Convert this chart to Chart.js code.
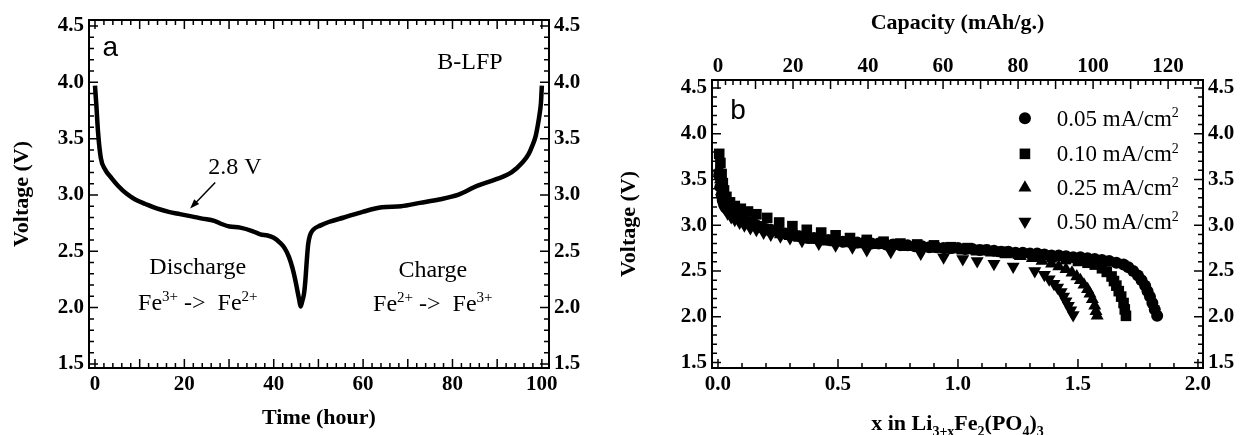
<!DOCTYPE html>
<html>
<head>
<meta charset="utf-8">
<script src="https://cdn.jsdelivr.net/npm/chart.js@4.4.0/dist/chart.umd.min.js"></script>
<style>
body { margin: 0; background: #fff; width: 1243px; height: 435px; overflow: hidden; position: relative; }
#boxA { position: absolute; left: 0; top: 0; width: 600px; height: 435px; }
#boxB { position: absolute; left: 600px; top: 0; width: 643px; height: 435px; }
</style>
</head>
<body>
<div id="boxA"><canvas id="chartA"></canvas></div>
<div id="boxB"><canvas id="chartB"></canvas></div>
<script>
// panel a: discharge / charge curve of B-LFP
const timeHours = [0, 0.3, 0.7, 1.3, 2.2, 3.7, 5.2, 7.1, 9, 11.3, 13.8, 16.5, 19, 21.6, 24, 26.7, 28.5, 30.1, 32.5, 35.2,
  37, 38.6, 40, 41.3, 42.4, 43.4, 44.2, 44.8, 45.3, 45.7, 46.0, 46.4, 46.8, 47.1, 47.4, 47.7, 48.1, 48.8, 50.5, 52.3,
  55.7, 59.9, 64.2, 68.5, 72.7, 77, 81.2, 85.5, 89.8, 93.2, 95.7, 97, 97.9, 98.6, 99.1, 99.5, 99.8, 100]
const voltageA = [3.97, 3.8, 3.55, 3.33, 3.23, 3.15, 3.08, 3.01, 2.96, 2.92, 2.88, 2.85, 2.83, 2.81, 2.79, 2.77, 2.74, 2.72, 2.71, 2.68,
  2.65, 2.64, 2.62, 2.58, 2.53, 2.45, 2.35, 2.25, 2.15, 2.07, 2.01, 2.06, 2.13, 2.25, 2.42, 2.56, 2.64, 2.69, 2.73, 2.76,
  2.8, 2.85, 2.89, 2.9, 2.93, 2.96, 3.0, 3.08, 3.14, 3.2, 3.29, 3.36, 3.44, 3.52, 3.62, 3.72, 3.82, 3.97]

// panel b: discharge at four current densities
const x005 = [0.005, 0.01, 0.015, 0.02, 0.025, 0.03, 0.04, 0.05, 0.06, 0.07, 0.08, 0.09, 0.1, 0.115, 0.13, 0.145, 0.16, 0.18, 0.2, 0.22,
  0.24, 0.26, 0.28, 0.3, 0.32, 0.34, 0.36, 0.38, 0.4, 0.43, 0.46, 0.49, 0.52, 0.55, 0.58, 0.61, 0.64, 0.67, 0.7, 0.73,
  0.76, 0.79, 0.82, 0.85, 0.88, 0.91, 0.94, 0.97, 1.0, 1.03, 1.06, 1.09, 1.12, 1.15, 1.18, 1.21, 1.24, 1.27, 1.3, 1.33,
  1.36, 1.39, 1.42, 1.45, 1.48, 1.51, 1.54, 1.57, 1.6, 1.63, 1.66, 1.69, 1.71, 1.73, 1.75, 1.765, 1.78, 1.79, 1.8, 1.81,
  1.82, 1.83]
const v005 = [3.55, 3.42, 3.33, 3.27, 3.23, 3.2, 3.17, 3.15, 3.13, 3.11, 3.1, 3.08, 3.07, 3.05, 3.03, 3.02, 3.0, 2.98, 2.96, 2.95,
  2.94, 2.92, 2.91, 2.9, 2.89, 2.88, 2.87, 2.86, 2.86, 2.85, 2.84, 2.83, 2.82, 2.82, 2.81, 2.81, 2.8, 2.8, 2.79, 2.79,
  2.78, 2.78, 2.77, 2.77, 2.76, 2.76, 2.75, 2.75, 2.75, 2.74, 2.74, 2.73, 2.73, 2.72, 2.71, 2.71, 2.7, 2.7, 2.69, 2.69,
  2.68, 2.67, 2.67, 2.66, 2.65, 2.65, 2.64, 2.63, 2.62, 2.61, 2.59, 2.57, 2.54, 2.5, 2.45, 2.4, 2.34, 2.28, 2.22, 2.15,
  2.08, 2.01]
const x010 = [0.005, 0.01, 0.015, 0.02, 0.025, 0.035, 0.05, 0.07, 0.095, 0.125, 0.16, 0.205, 0.255, 0.31, 0.37, 0.43, 0.49, 0.55, 0.62, 0.69,
  0.76, 0.83, 0.9, 0.97, 1.04, 1.11, 1.18, 1.25, 1.32, 1.39, 1.45, 1.5, 1.54, 1.57, 1.6, 1.62, 1.64, 1.65, 1.66, 1.67,
  1.68, 1.69, 1.695, 1.7]
const v010 = [3.78, 3.68, 3.56, 3.46, 3.38, 3.31, 3.25, 3.21, 3.18, 3.15, 3.12, 3.08, 3.03, 2.99, 2.95, 2.92, 2.89, 2.86, 2.84, 2.82,
  2.8, 2.79, 2.78, 2.76, 2.75, 2.73, 2.71, 2.69, 2.67, 2.65, 2.63, 2.61, 2.59, 2.57, 2.53, 2.49, 2.44, 2.39, 2.34, 2.28,
  2.22, 2.15, 2.08, 2.01]
const x025 = [0.005, 0.01, 0.015, 0.02, 0.03, 0.04, 0.055, 0.07, 0.09, 0.11, 0.135, 0.16, 0.19, 0.22, 0.26, 0.3, 0.34, 0.39, 0.44, 0.49,
  0.54, 0.6, 0.66, 0.72, 0.78, 0.84, 0.9, 0.96, 1.02, 1.08, 1.14, 1.2, 1.26, 1.31, 1.35, 1.39, 1.42, 1.45, 1.475, 1.495,
  1.51, 1.525, 1.54, 1.55, 1.56, 1.57, 1.575, 1.58]
const v025 = [3.62, 3.5, 3.42, 3.35, 3.27, 3.21, 3.16, 3.12, 3.08, 3.05, 3.02, 2.99, 2.96, 2.93, 2.9, 2.88, 2.86, 2.84, 2.82, 2.81,
  2.8, 2.79, 2.78, 2.77, 2.76, 2.75, 2.74, 2.73, 2.72, 2.71, 2.7, 2.68, 2.66, 2.64, 2.61, 2.58, 2.55, 2.52, 2.48, 2.44,
  2.4, 2.35, 2.3, 2.25, 2.19, 2.12, 2.06, 2.01]
const x050 = [0.005, 0.01, 0.015, 0.02, 0.03, 0.04, 0.055, 0.07, 0.09, 0.11, 0.135, 0.16, 0.19, 0.22, 0.26, 0.3, 0.35, 0.42, 0.49, 0.56,
  0.62, 0.72, 0.845, 0.94, 1.02, 1.08, 1.15, 1.23, 1.32, 1.36, 1.38, 1.4, 1.415, 1.43, 1.44, 1.45, 1.46, 1.47, 1.48]
const v050 = [3.5, 3.38, 3.3, 3.25, 3.18, 3.13, 3.09, 3.06, 3.03, 3.0, 2.97, 2.95, 2.92, 2.9, 2.88, 2.86, 2.83, 2.8, 2.78, 2.76,
  2.73, 2.71, 2.69, 2.65, 2.63, 2.61, 2.58, 2.55, 2.5, 2.46, 2.41, 2.36, 2.32, 2.27, 2.22, 2.17, 2.12, 2.07, 2.02]
const rateLabels = ['0.05 mA/cm', '0.10 mA/cm', '0.25 mA/cm', '0.50 mA/cm']

const timeTicks = [0, 20, 40, 60, 80, 100]
const voltTicks = [1.5, 2.0, 2.5, 3.0, 3.5, 4.0, 4.5]
const xTicks = [0, 0.5, 1.0, 1.5, 2.0]
const capacityTicks = [0, 20, 40, 60, 80, 100, 120]

const serif = '"Liberation Serif", "Times New Roman", serif'
Chart.defaults.color = '#000'
Chart.defaults.font.family = serif

function toXY(xs, ys) {
    return xs.map((x, i) => ({ x: x, y: ys[i] }))
}

// text with super/subscripts, parts = [[text, 'sup'|'sub'|undefined], ...]
function richText(ctx, parts, x, y, size, weight, align) {
    const small = Math.round(size * 0.62)
    const fontOf = p => `${weight} ${p[1] ? small : size}px ${serif}`
    let total = 0
    parts.forEach(p => { ctx.font = fontOf(p); total += ctx.measureText(p[0]).width })
    let cx = align === 'center' ? x - total / 2 : x
    ctx.textAlign = 'left'
    ctx.textBaseline = 'alphabetic'
    const base = y + size * 0.33
    parts.forEach(p => {
        ctx.font = fontOf(p)
        let dy = 0
        if (p[1] === 'sup') dy = -size * 0.36
        if (p[1] === 'sub') dy = size * 0.24
        ctx.fillText(p[0], cx, base + dy)
        cx += ctx.measureText(p[0]).width
    })
}

// inward tick marks + frame, drawn from the chart's own scales
function frameAndTicks(chart, specs) {
    const ctx = chart.ctx
    const a = chart.chartArea
    ctx.save()
    ctx.strokeStyle = '#000'
    ctx.lineWidth = 1.5
    specs.forEach(sp => {
        const sc = chart.scales[sp.scale]
        const ratio = Math.round(sp.major / sp.minor)
        for (let k = Math.ceil(sc.min / sp.minor - 1e-6); k * sp.minor <= sc.max + 1e-6; k++) {
            const p = sc.getPixelForValue(k * sp.minor)
            const len = k % ratio === 0 ? 9 : 5
            ctx.beginPath()
            sp.edges.forEach(e => {
                if (e === 'bottom') { ctx.moveTo(p, a.bottom); ctx.lineTo(p, a.bottom - len) }
                if (e === 'top') { ctx.moveTo(p, a.top); ctx.lineTo(p, a.top + len) }
                if (e === 'left') { ctx.moveTo(a.left, p); ctx.lineTo(a.left + len, p) }
                if (e === 'right') { ctx.moveTo(a.right, p); ctx.lineTo(a.right - len, p) }
            })
            ctx.stroke()
        }
    })
    ctx.lineWidth = 2
    ctx.strokeRect(a.left, a.top, a.right - a.left, a.bottom - a.top)
    ctx.restore()
}

const tickFont = { family: serif, size: 21, weight: 'bold', lineHeight: 1 }
const titleFont = { family: serif, size: 22, weight: 'bold', lineHeight: 1 }

function valueAxis(ticks, pos, min, max, width, fmt, title, titlePad) {
    return {
        type: 'linear', position: pos, min: min, max: max,
        grid: { display: false, drawTicks: false }, border: { display: false },
        ticks: { font: tickFont, padding: 5, callback: fmt },
        afterBuildTicks: s => { s.ticks = ticks.map(v => ({ value: v })) },
        afterFit: s => { s.width = width },
        title: { display: !!title, text: title, font: titleFont, padding: titlePad || 0 }
    }
}

function categoryAxis(ticks, pos, min, max, height, fmt, pad, title, titlePad) {
    return {
        type: 'linear', position: pos, min: min, max: max,
        grid: { display: false, drawTicks: false }, border: { display: false },
        ticks: { font: tickFont, padding: pad, maxRotation: 0, callback: fmt },
        afterBuildTicks: s => { s.ticks = ticks.map(v => ({ value: v })) },
        afterFit: s => { s.height = height },
        title: { display: !!title, text: title, font: titleFont, padding: titlePad || 0 }
    }
}

const one = v => v.toFixed(1)
const plain = v => String(v)

// ---------- panel a ----------
const panelA = {
    id: 'panelA',
    afterDatasetsDraw(chart) {
        const ctx = chart.ctx
        const X = v => chart.scales.x.getPixelForValue(v)
        const Y = v => chart.scales.y.getPixelForValue(v)
        frameAndTicks(chart, [
            { scale: 'x', minor: 2, major: 10, edges: ['bottom', 'top'] },
            { scale: 'y', minor: 0.1, major: 0.5, edges: ['left', 'right'] }
        ])
        ctx.save()
        ctx.fillStyle = '#000'
        ctx.strokeStyle = '#000'
        ctx.textAlign = 'center'
        ctx.textBaseline = 'middle'
        ctx.font = '28px "Liberation Sans", Arial, sans-serif'
        ctx.fillText('a', X(3.4), Y(4.3))
        ctx.font = '24px ' + serif
        ctx.fillText('B-LFP', X(83.9), Y(4.17))
        ctx.fillText('2.8 V', X(31.3), Y(3.24))
        ctx.fillText('Discharge', X(23), Y(2.35))
        ctx.fillText('Charge', X(75.6), Y(2.33))
        richText(ctx, [['Fe'], ['3+', 'sup'], [' ->  Fe'], ['2+', 'sup']], X(23), Y(2.05), 24, 'normal', 'center')
        richText(ctx, [['Fe'], ['2+', 'sup'], [' ->  Fe'], ['3+', 'sup']], X(75.6), Y(2.04), 24, 'normal', 'center')
        // arrow towards the 2.8 V plateau
        const x1 = X(26.9), y1 = Y(3.11), x2 = X(21.3), y2 = Y(2.88)
        const ang = Math.atan2(y2 - y1, x2 - x1)
        ctx.lineWidth = 1.5
        ctx.beginPath()
        ctx.moveTo(x1, y1)
        ctx.lineTo(x2 - 6 * Math.cos(ang), y2 - 6 * Math.sin(ang))
        ctx.stroke()
        ctx.beginPath()
        ctx.moveTo(x2, y2)
        ctx.lineTo(x2 - 10 * Math.cos(ang - 0.35), y2 - 10 * Math.sin(ang - 0.35))
        ctx.lineTo(x2 - 10 * Math.cos(ang + 0.35), y2 - 10 * Math.sin(ang + 0.35))
        ctx.closePath()
        ctx.fill()
        ctx.restore()
    }
}

new Chart(document.getElementById('chartA'), {
    type: 'scatter',
    data: {
        datasets: [{
            data: toXY(timeHours, voltageA),
            showLine: true,
            borderColor: '#000',
            borderWidth: 4.5,
            pointRadius: 0,
            cubicInterpolationMode: 'monotone'
        }]
    },
    options: {
        responsive: true,
        maintainAspectRatio: false,
        animation: false,
        layout: { padding: { top: 20, left: 0, right: 0, bottom: 0 } },
        plugins: { legend: { display: false }, tooltip: { enabled: false } },
        scales: {
            x: categoryAxis(timeTicks, 'bottom', -1.34, 101.6, 67, plain, 6, 'Time (hour)', 6),
            y: valueAxis(voltTicks, 'left', 1.464, 4.553, 89, one, 'Voltage (V)', 11),
            y2: valueAxis(voltTicks, 'right', 1.464, 4.553, 51, one)
        }
    },
    plugins: [panelA]
})

// ---------- panel b ----------
const markerStyles = [
    { pointStyle: 'circle', radius: 6, rotation: 0 },
    { pointStyle: 'rect', radius: 7.5, rotation: 0 },
    { pointStyle: 'triangle', radius: 7.5, rotation: 0 },
    { pointStyle: 'triangle', radius: 7.5, rotation: 180 }
]
const legendRows = [4.17, 3.78, 3.41, 3.04]

const panelB = {
    id: 'panelB',
    afterDatasetsDraw(chart) {
        const ctx = chart.ctx
        const a = chart.chartArea
        const X = v => chart.scales.x.getPixelForValue(v)
        const Y = v => chart.scales.y.getPixelForValue(v)
        frameAndTicks(chart, [
            { scale: 'x', minor: 0.1, major: 0.5, edges: ['bottom'] },
            { scale: 'x2', minor: 2, major: 10, edges: ['top'] },
            { scale: 'y', minor: 0.1, major: 0.5, edges: ['left', 'right'] }
        ])
        ctx.save()
        ctx.fillStyle = '#000'
        ctx.strokeStyle = '#000'
        ctx.textAlign = 'center'
        ctx.textBaseline = 'middle'
        ctx.font = '28px "Liberation Sans", Arial, sans-serif'
        ctx.fillText('b', X(0.083), Y(4.24))
        rateLabels.forEach((lab, i) => {
            const m = markerStyles[i]
            Chart.helpers.drawPoint(ctx, { pointStyle: m.pointStyle, radius: m.radius, rotation: m.rotation, borderWidth: 0 }, X(1.279), Y(legendRows[i]))
            richText(ctx, [[lab], ['2', 'sup']], X(1.412), Y(legendRows[i]), 23, 'normal', 'left')
        })
        richText(ctx, [['x in Li'], ['3+x', 'sub'], ['Fe'], ['2', 'sub'], ['(PO'], ['4', 'sub'], [')'], ['3', 'sub']],
            (a.left + a.right) / 2, 423, 22, 'bold', 'center')
        ctx.restore()
    }
}

const seriesX = [x005, x010, x025, x050]
const seriesV = [v005, v010, v025, v050]

new Chart(document.getElementById('chartB'), {
    type: 'scatter',
    data: {
        datasets: seriesX.map((xs, i) => ({
            label: rateLabels[i] + '²',
            data: toXY(xs, seriesV[i]),
            pointStyle: markerStyles[i].pointStyle,
            pointRadius: markerStyles[i].radius,
            rotation: markerStyles[i].rotation,
            backgroundColor: '#000',
            borderColor: '#000',
            borderWidth: 0
        }))
    },
    options: {
        responsive: true,
        maintainAspectRatio: false,
        animation: false,
        layout: { padding: 0 },
        plugins: { legend: { display: false }, tooltip: { enabled: false } },
        scales: {
            x: categoryAxis(xTicks, 'bottom', -0.025, 2.021, 67, one, 6),
            x2: categoryAxis(capacityTicks, 'top', -1.6, 129.3, 80, plain, 3, 'Capacity (mAh/g.)', 12),
            y: valueAxis(voltTicks, 'left', 1.44, 4.587, 112, one, 'Voltage (V)', 18),
            y2: valueAxis(voltTicks, 'right', 1.44, 4.587, 40, one)
        }
    },
    plugins: [panelB]
})
</script>
</body>
</html>
